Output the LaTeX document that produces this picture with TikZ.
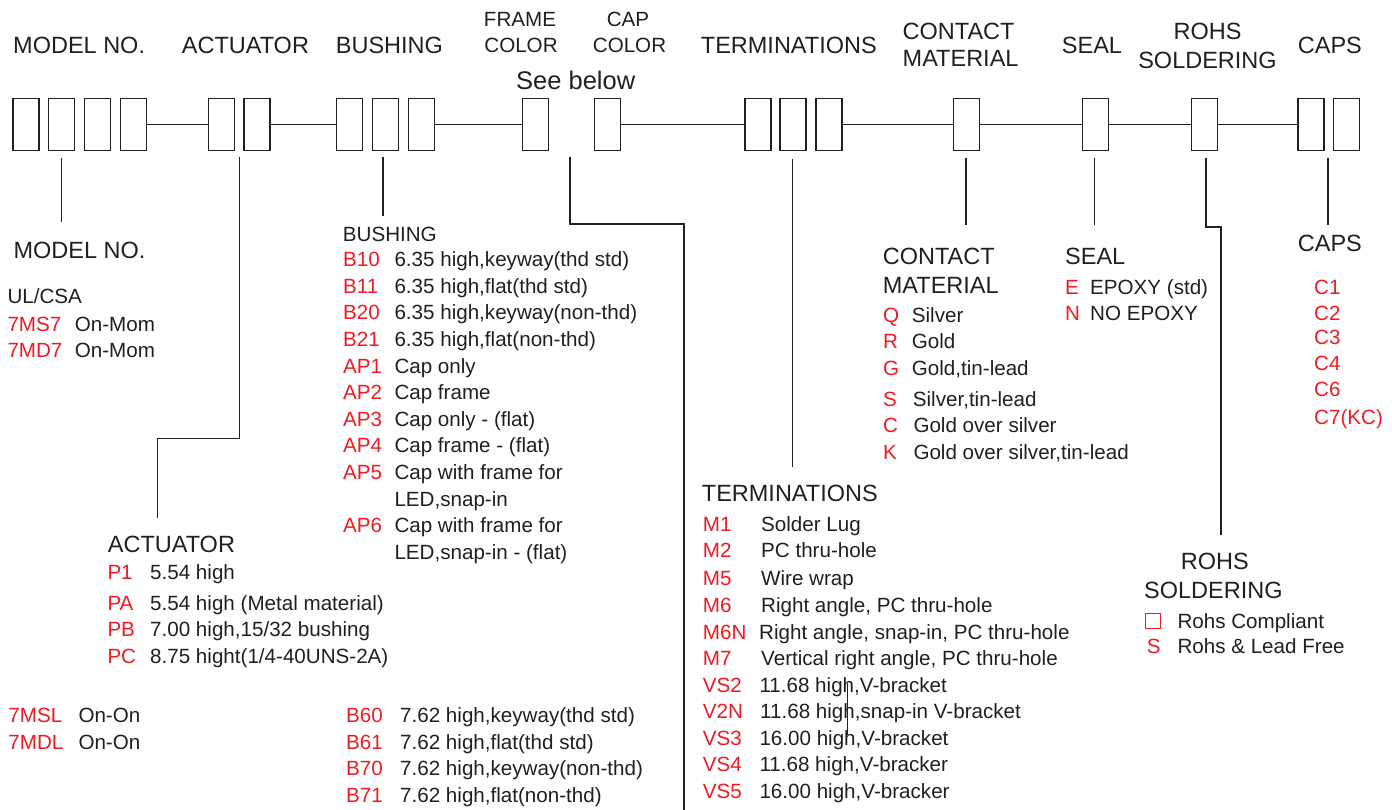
\documentclass[tikz,border=0pt]{standalone}
\usepackage{fontspec}
\setmainfont{Liberation Sans}
\definecolor{redc}{RGB}{237,28,36}
\definecolor{ink}{RGB}{35,31,32}
\newcommand\fsm{\fontsize{20.6}{24}\selectfont}
\newcommand\fbg{\fontsize{23.5}{28}\selectfont}
\newcommand\fsee{\fontsize{25.5}{30}\selectfont}
\begin{document}
\begin{tikzpicture}[x=1pt,y=-1pt,
 slot/.style={draw=ink,line width=1.4pt,fill=white,minimum width=26pt,minimum height=52pt,inner sep=0pt},
 wire/.style={draw=ink,line width=1.4pt},
 big/.style={anchor=base west,inner sep=0pt,font=\fbg,text=ink},
 bigc/.style={anchor=base,inner sep=0pt,font=\fbg,text=ink},
 sm/.style={anchor=base west,inner sep=0pt,font=\fsm,text=ink},
 smc/.style={anchor=base,inner sep=0pt,font=\fsm,text=ink},
 code/.style={anchor=base west,inner sep=0pt,font=\fsm,text=redc}]
\useasboundingbox (0,0) rectangle (1392,810);
\fill[white] (0,0) rectangle (1392,810);

% ---------- top headers ----------
\node[big] (hModel) at (13,54) {MODEL NO.};
\node[big] (hAct) at (181.7,54) {ACTUATOR};
\node[big] (hBush) at (335.7,54) {BUSHING};
\node[smc] (hFrame1) at (520,26.7) {FRAME};
\node[smc] (hFrame2) at (521,52.3) {COLOR};
\node[smc] (hCap1) at (628,26.7) {CAP};
\node[smc] (hCap2) at (629.5,52.3) {COLOR};
\node[anchor=base west,inner sep=0pt,font=\fsee,text=ink] (hSee) at (516,90) {See below};
\node[big] (hTerm) at (700.7,54) {TERMINATIONS};
\node[big] (hCont1) at (902.5,39.3) {CONTACT};
\node[big] (hCont2) at (902.5,66.7) {MATERIAL};
\node[big] (hSeal) at (1061.7,54) {SEAL};
\node[bigc] (hRohs1) at (1207.5,40) {ROHS};
\node[bigc] (hRohs2) at (1207.5,68.3) {SOLDERING};
\node[big] (hCaps) at (1297.7,54) {CAPS};

% ---------- connecting line and slots ----------
\node[slot] (m1) at (25.8,124.5) {};
\node[slot] (m2) at (61.7,124.5) {};
\node[slot] (m3) at (97.7,124.5) {};
\node[slot] (m4) at (133.3,124.5) {};
\node[slot] (a1) at (221.7,124.5) {};
\node[slot] (a2) at (257,124.5) {};
\node[slot] (b1) at (349.5,124.5) {};
\node[slot] (b2) at (385.3,124.5) {};
\node[slot] (b3) at (421.2,124.5) {};
\node[slot] (fr) at (535.3,124.5) {};
\node[slot] (cp) at (607.2,124.5) {};
\node[slot] (t1) at (758,124.5) {};
\node[slot] (t2) at (793,124.5) {};
\node[slot] (t3) at (829,124.5) {};
\node[slot] (ct) at (966.2,124.5) {};
\node[slot] (sl) at (1095.7,124.5) {};
\node[slot] (rh) at (1204.2,124.5) {};
\node[slot] (c1) at (1311,124.5) {};
\node[slot] (c2) at (1346.7,124.5) {};
\draw[wire] (m4.east) -- (a1.west);
\draw[wire] (a2.east) -- (b1.west);
\draw[wire] (b3.east) -- (fr.west);
\draw[wire] (cp.east) -- (t1.west);
\draw[wire] (t3.east) -- (ct.west);
\draw[wire] (ct.east) -- (sl.west);
\draw[wire] (sl.east) -- (rh.west);
\draw[wire] (rh.east) -- (c1.west);

% ---------- leader lines ----------
\coordinate (mT) at (61.5,158);   \coordinate (mB) at (61.5,222);
\coordinate (aT) at (239.3,157);  \coordinate (aM1) at (239.3,438.3);
\coordinate (aM2) at (157.3,438.3); \coordinate (aB) at (157.3,518.3);
\coordinate (bT) at (383,157);    \coordinate (bB) at (383,216);
\coordinate (fT) at (570,157);    \coordinate (fM1) at (570,224);
\coordinate (fM2) at (684,224);   \coordinate (fB) at (684,810);
\coordinate (tT) at (792.7,159);  \coordinate (tB) at (792.7,466.7);
\coordinate (kT) at (966,158);    \coordinate (kB) at (966,225);
\coordinate (sT) at (1094.5,158); \coordinate (sB) at (1094.5,225);
\coordinate (rT) at (1206,158);   \coordinate (rM1) at (1206,227);
\coordinate (rM2) at (1221,227);  \coordinate (rB) at (1221,535);
\coordinate (cT) at (1328,158);   \coordinate (cB) at (1328,225);
\draw[wire] (mT) -- (mB);
\draw[wire] (aT) -- (aM1) -- (aM2) -- (aB);
\draw[wire] (bT) -- (bB);
\draw[wire] (fT) -- (fM1) -- (fM2) -- (fB);
\draw[wire] (tT) -- (tB);
\draw[wire] (kT) -- (kB);
\draw[wire] (sT) -- (sB);
\draw[wire] (rT) -- (rM1) -- (rM2) -- (rB);
\draw[wire] (cT) -- (cB);
\coordinate (xT) at (847,683); \coordinate (xB) at (847,735);
\draw[draw=ink,line width=0.8pt] (xT) -- (xB);

% ---------- MODEL NO. ----------
\node[big] (lModel) at (13.3,258.3) {MODEL NO.};
\node[sm] (ul) at (7.3,303.3) {UL/CSA};
\node[code] (ms7) at (7.3,331.7) {7MS7};
\node[sm] (ms7d) at (74.7,331.7) {On-Mom};
\node[code] (md7) at (7.3,357) {7MD7};
\node[sm] (md7d) at (74.7,357) {On-Mom};
\node[code] (msl) at (8.3,722.3) {7MSL};
\node[sm] (msld) at (78.3,722.3) {On-On};
\node[code] (mdl) at (8.3,749.8) {7MDL};
\node[sm] (mdld) at (78.3,749.8) {On-On};

% ---------- BUSHING ----------
\node[sm] (lBush) at (342.7,241.7) {BUSHING};
\foreach \y/\c/\d [count=\i] in {
  266.7/B10/{6.35 high,keyway(thd std)},
  293.3/B11/{6.35 high,flat(thd std)},
  319.9/B20/{6.35 high,keyway(non-thd)},
  346.5/B21/{6.35 high,flat(non-thd)},
  373.1/AP1/{Cap only},
  399.7/AP2/{Cap frame},
  426.3/AP3/{Cap only - (flat)},
  452.9/AP4/{Cap frame - (flat)},
  479.5/AP5/{Cap with frame for},
  532.7/AP6/{Cap with frame for}}{
  \node[code] (bc\i) at (343,\y) {\c};
  \node[sm] (bd\i) at (394.3,\y) {\d};
}
\node[sm] (bled1) at (394.3,506.1) {LED,snap-in};
\node[sm] (bled2) at (394.3,559.3) {LED,snap-in - (flat)};
\foreach \y/\c/\d [count=\i] in {
  722.3/B60/{7.62 high,keyway(thd std)},
  749.8/B61/{7.62 high,flat(thd std)},
  775.8/B70/{7.62 high,keyway(non-thd)},
  802.3/B71/{7.62 high,flat(non-thd)}}{
  \node[code] (bbc\i) at (346,\y) {\c};
  \node[sm] (bbd\i) at (400,\y) {\d};
}

% ---------- ACTUATOR ----------
\node[big] (lAct) at (107.7,552.3) {ACTUATOR};
\foreach \y/\c/\d [count=\i] in {
  579.3/P1/{5.54 high},
  610/PA/{5.54 high (Metal material)},
  636.8/PB/{7.00 high,15/32 bushing},
  663.8/PC/{8.75 hight(1/4-40UNS-2A)}}{
  \node[code] (ac\i) at (107.3,\y) {\c};
  \node[sm] (ad\i) at (150,\y) {\d};
}

% ---------- TERMINATIONS ----------
\node[big] (lTerm) at (701.7,501.7) {TERMINATIONS};
\foreach \y/\c/\x/\d [count=\i] in {
  531/M1/761/{Solder Lug},
  557.8/M2/761/{PC thru-hole},
  585.8/M5/761/{Wire wrap},
  612.6/M6/761/{Right angle, PC thru-hole},
  639.3/M6N/759/{Right angle, snap-in, PC thru-hole},
  665.8/M7/761/{Vertical right angle, PC thru-hole},
  692.3/VS2/759.3/{11.68 high,V-bracket},
  718.8/V2N/760/{11.68 high,snap-in V-bracket},
  745.6/VS3/759.3/{16.00 high,V-bracket},
  771.8/VS4/759.3/{11.68 high,V-bracker},
  798.8/VS5/759.3/{16.00 high,V-bracker}}{
  \node[code] (tc\i) at (702.7,\y) {\c};
  \node[sm] (td\i) at (\x,\y) {\d};
}

% ---------- CONTACT MATERIAL ----------
\node[big] (lCont1) at (882.7,265) {CONTACT};
\node[big] (lCont2) at (882.7,294) {MATERIAL};
\foreach \y/\c/\x/\d [count=\i] in {
  322.6/Q/911.7/{Silver},
  348.8/R/911.7/{Gold},
  375.8/G/911.7/{Gold,tin-lead},
  406.8/S/912.7/{Silver,tin-lead},
  432.6/C/913.3/{Gold over silver},
  459.3/K/913.3/{Gold over silver,tin-lead}}{
  \node[code] (kc\i) at (883,\y) {\c};
  \node[sm] (kd\i) at (\x,\y) {\d};
}

% ---------- SEAL ----------
\node[big] (lSeal) at (1065,265) {SEAL};
\node[code] (se) at (1065,294.3) {E};
\node[sm] (sed) at (1090,294.3) {EPOXY (std)};
\node[code] (sn) at (1065,320.5) {N};
\node[sm] (snd) at (1090,320.5) {NO EPOXY};

% ---------- CAPS ----------
\node[big] (lCaps) at (1297.7,251.7) {CAPS};
\foreach \y/\c [count=\i] in {294.3/C1,320/C2,344.3/C3,370/C4,396.5/C6,424/C7(KC)}{
  \node[code] (cc\i) at (1314,\y) {\c};
}

% ---------- ROHS SOLDERING ----------
\node[big] (lRohs1) at (1180.7,569.3) {ROHS};
\node[big] (lRohs2) at (1144,598.3) {SOLDERING};
\node[draw=redc,line width=1.3pt,minimum width=15pt,minimum height=15pt,inner sep=0pt] (sq) at (1153.3,621.2) {};
\node[sm] (rcd) at (1177.3,628) {Rohs Compliant};
\node[code] (rs) at (1146.7,653.5) {S};
\node[sm] (rsd) at (1177.3,653.5) {Rohs \& Lead Free};
\end{tikzpicture}
\end{document}
